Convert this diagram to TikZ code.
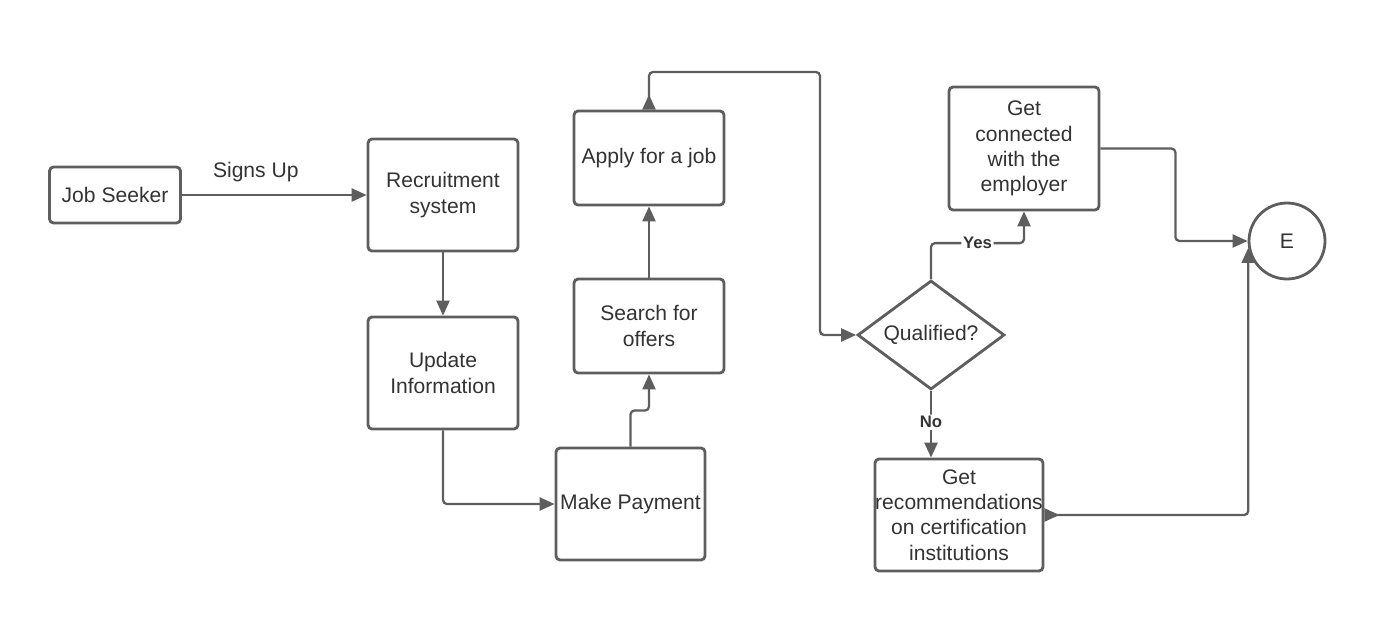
\documentclass[tikz,border=0pt]{standalone}
\usepackage{fontspec}
\setmainfont{Liberation Sans}
\usetikzlibrary{arrows.meta,shapes.geometric,calc}

\definecolor{linegray}{HTML}{5E5E5E}
\definecolor{textgray}{HTML}{333333}

\tikzset{
  box/.style = {draw=linegray, line width=1.6pt, rounded corners=0.08cm,
                align=center, text=textgray, inner sep=0pt,
                font=\fontsize{12}{14.4}\selectfont},
  decision/.style = {draw=linegray, line width=1.6pt, shape=diamond, inner sep=0pt,
                minimum width=2.94cm, minimum height=2.18cm},
  endstate/.style = {draw=linegray, line width=1.6pt, circle, minimum size=1.52cm,
                text=textgray, font=\fontsize{12}{14.4}\selectfont},
  flow/.style = {draw=linegray, line width=1.3pt, rounded corners=0.08cm,
                -{Triangle[length=0.3cm, width=0.26cm]}},
  twoway/.style = {flow, {Triangle[length=0.3cm, width=0.26cm, reversed]}-{Triangle[length=0.3cm, width=0.26cm]}},
  choice/.style = {fill=white, text=textgray, inner sep=1pt,
                font=\fontsize{9.5}{11}\selectfont\bfseries}
}

\begin{document}
\begin{tikzpicture}[x=0.02cm, y=-0.02cm]
  \useasboundingbox (0,0) rectangle (1395,632);

  % boxes
  \node (seeker)  at (115,195)  [box, minimum width=2.62cm, minimum height=1.12cm] {Job Seeker};
  \node (recruit) at (443,195)  [box, minimum width=3cm, minimum height=2.24cm] {Recruitment\\system};
  \node (update)  at (443,373)  [box, minimum width=3cm, minimum height=2.24cm] {Update\\Information};
  \node (pay)     at (630.5,504) [box, minimum width=2.98cm, minimum height=2.24cm] {Make Payment};
  \node (search)  at (649,326)  [box, minimum width=3cm, minimum height=1.88cm] {Search for\\offers};
  \node (apply)   at (649,158)  [box, minimum width=3cm, minimum height=1.88cm] {Apply for a job};
  \node (qual)    at (931,335)  [decision, label={[text=textgray, font=\fontsize{12}{14.4}\selectfont]center:Qualified?}] {};
  \node (connect) at (1024,148.5) [box, minimum width=3cm, minimum height=2.46cm] {Get\\connected\\with the\\employer};
  \node (recomm)  at (959,515)  [box, minimum width=3.36cm, minimum height=2.24cm] {Get\\recommendations\\on certification\\institutions};
  \node (E)       at (1287,241) [endstate] {E};

  \coordinate (top) at (820,72);

  % connectors
  \draw[flow] (seeker) -- node[pos=0.4, above=0.12cm, text=textgray, font=\fontsize{12}{14.4}\selectfont] {Signs Up} (recruit);
  \draw[flow] (recruit) -- (update);
  \draw[flow] (update.south) |- (pay.west);
  \draw[flow] (pay.north) |- ($(pay.north)!0.5!(search.south)$) -| (search.south);
  \draw[flow] (search) -- (apply);
  \draw[twoway] (apply.north) |- (top) |- (qual.west);
  \draw[flow] (qual.north) -- ++(0,-36) -| node[pos=0.25, choice] {Yes} (connect.south);
  \draw[flow] (qual.south) -- node[pos=0.47, choice] {No} (qual.south |- recomm.north);
  \draw[flow] (connect.east) -- ++(75,0) |- (E.west);
  \draw[twoway] (recomm.east) -| (E.190);
\end{tikzpicture}
\end{document}
